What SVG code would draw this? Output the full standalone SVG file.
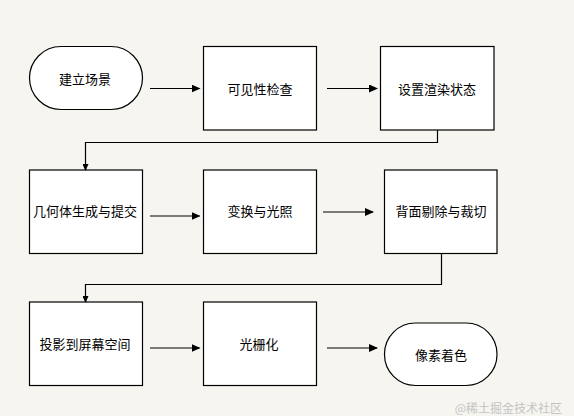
<svg xmlns="http://www.w3.org/2000/svg" width="574" height="416" viewBox="0 0 574 416">
<style>
.n{fill:#fff;stroke:#000;stroke-width:1.2}
.t{font-family:"Noto Sans CJK SC","Liberation Sans",sans-serif;font-size:13px;fill:#000;text-anchor:middle;dominant-baseline:central}
.c{fill:none;stroke:#000;stroke-width:1.2}
.w{font-family:"Noto Sans CJK SC","Liberation Sans",sans-serif;font-size:12px;fill:#c4c4c4;text-anchor:end;dominant-baseline:central}
</style>
<defs>
<marker id="ah" markerWidth="9" markerHeight="8" refX="8" refY="4" orient="auto" markerUnits="userSpaceOnUse">
<path d="M0,0 L9,4 L0,8 Z" fill="#000"/>
</marker>
<marker id="ahs" markerWidth="7" markerHeight="6" refX="6" refY="3" orient="auto" markerUnits="userSpaceOnUse">
<path d="M0,0 L7,3 L0,6 Z" fill="#000"/>
</marker>
</defs>
<rect x="0" y="0" width="574" height="416" fill="#f6f5f0"/>
<g id="n1"><rect class="n" x="29.5" y="46.5" width="113" height="63" rx="31.5" ry="31.5"/><text class="t" x="85" y="78">建立场景</text></g>
<g id="n2"><rect class="n" x="203.5" y="46.5" width="113" height="83.5"/><text class="t" x="260" y="88">可见性检查</text></g>
<g id="n3"><rect class="n" x="380.5" y="46.5" width="113.5" height="83.5"/><text class="t" x="437" y="88">设置渲染状态</text></g>
<g id="n4"><rect class="n" x="29.5" y="170" width="113" height="83.5"/><text class="t" x="85" y="210.5">几何体生成与提交</text></g>
<g id="n5"><rect class="n" x="203.5" y="170" width="113" height="83.5"/><text class="t" x="260" y="210.5">变换与光照</text></g>
<g id="n6"><rect class="n" x="384.5" y="170" width="112.5" height="83.5"/><text class="t" x="441" y="210.5">背面剔除与裁切</text></g>
<g id="n7"><rect class="n" x="29.5" y="302" width="113" height="83.5"/><text class="t" x="85" y="343">投影到屏幕空间</text></g>
<g id="n8"><rect class="n" x="203.5" y="302" width="113" height="83.5"/><text class="t" x="259" y="343">光栅化</text></g>
<g id="n9"><rect class="n" x="384.5" y="323" width="112.5" height="62.5" rx="31" ry="31"/><text class="t" x="441" y="354">像素着色</text></g>
<g id="connectors">
<path class="c" d="M150,88.5 H199.5" marker-end="url(#ah)"/>
<path class="c" d="M327,88.5 H377" marker-end="url(#ah)"/>
<path class="c" d="M437.5,130 V142.5 H85.5 V170" marker-end="url(#ahs)"/>
<path class="c" d="M150,216 H199.5" marker-end="url(#ah)"/>
<path class="c" d="M323,212 H373" marker-end="url(#ah)"/>
<path class="c" d="M441.5,253.5 V284.5 H85.5 V302" marker-end="url(#ahs)"/>
<path class="c" d="M150,348 H199.5" marker-end="url(#ah)"/>
<path class="c" d="M327,348 H377" marker-end="url(#ah)"/>
</g>
<text class="w" x="562" y="407">@稀土掘金技术社区</text>
</svg>
